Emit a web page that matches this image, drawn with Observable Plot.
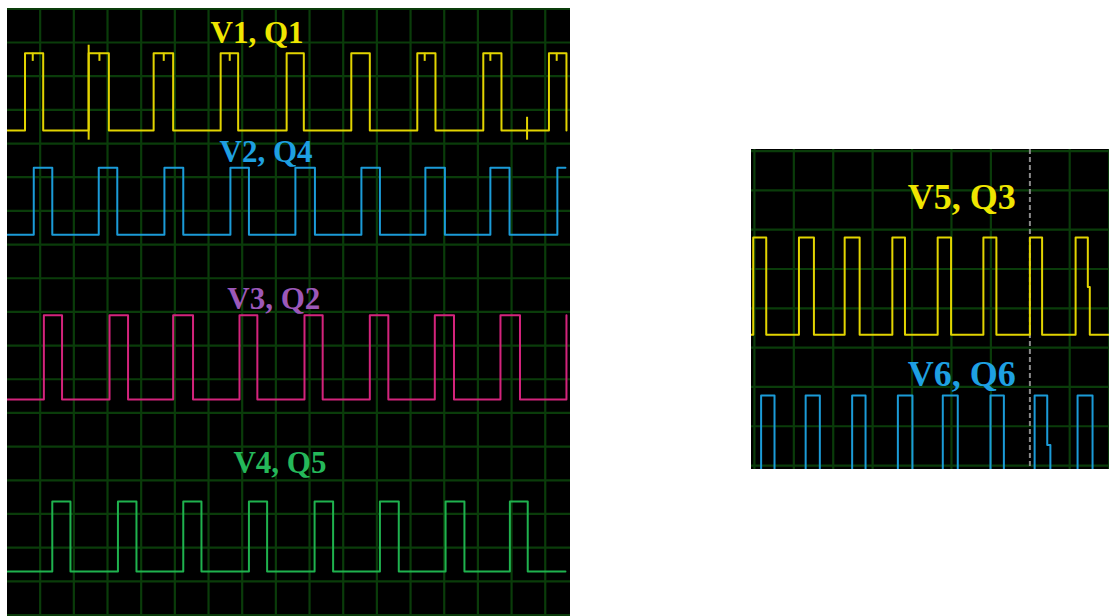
<!DOCTYPE html>
<html><head><meta charset="utf-8">
<script src="https://cdn.jsdelivr.net/npm/d3@7"></script>
<script src="https://cdn.jsdelivr.net/npm/@observablehq/plot@0.6"></script>
<style>
html,body{margin:0;padding:0;background:#fff}
body{width:1109px;height:616px;position:relative;overflow:hidden}
.panel{position:absolute;line-height:0}
#left{left:7px;top:8px}
#right{left:751px;top:149px}
</style></head><body>
<div id="left" class="panel"></div><div id="right" class="panel"></div>
<script>
// ---------- LEFT SCOPE (time and level in screen divisions) ----------
const leftNames = ["V1, Q1", "V2, Q4", "V3, Q2", "V4, Q5"];
const leftLow  = [14.39, 11.29, 6.40, 1.29];   // low level (div from bottom)
const leftHigh = [16.68, 13.28, 8.90, 3.37];   // high level
const leftStart = [0.03, 0.03, 0.03, 0.03];
const leftEnd   = [16.63, 16.60, 16.63, 16.60];
const v1Rises = [0.55, 2.44, 4.37, 6.36, 8.32, 10.24, 12.20, 14.16, 16.11];
const v1Falls = [1.09, 3.04, 4.95, 6.88, 8.83, 10.79, 12.74, 14.70, 16.63];
const v2Rises = [0.81, 2.74, 4.69, 6.65, 8.58, 10.54, 12.44, 14.37, 16.36];
const v2Falls = [1.36, 3.29, 5.25, 7.20, 9.16, 11.09, 13.02, 14.94];
const v3Rises = [1.11, 3.06, 4.95, 6.92, 8.85, 10.79, 12.72, 14.67, 16.63];
const v3Falls = [1.65, 3.61, 5.54, 7.45, 9.39, 11.34, 13.29, 15.25];
const v4Rises = [1.36, 3.31, 5.25, 7.20, 9.15, 11.09, 13.04, 14.95];
const v4Falls = [1.90, 3.86, 5.79, 7.74, 9.70, 11.65, 13.60, 15.48];
// V1 glitches: small notches on the high level and spikes
const v1NotchTimes = [0.78, 2.76, 4.67, 6.63, 12.42, 14.37, 16.34];
const v1NotchDepth = 0.24;
const v1SpikeTimes = [2.44, 15.46];
const v1SpikeLow   = [14.10, 14.10];
const v1SpikeHigh  = [16.92, 14.78];
const leftLabelX = [7.44, 7.71, 7.94, 8.12];
const leftLabelY = [17.27, 13.74, 9.38, 4.50];

// ---------- RIGHT SCOPE ----------
const rightNames = ["V5, Q3", "V6, Q6"];
const rightLow  = [3.33, -0.69];
const rightHigh = [5.80, 1.78];
const rightStart = [-0.08, -0.08];
const rightEnd   = [9.02, 9.02];
const v5Times  = [-0.03, 0.30, 1.13, 1.51, 2.29, 2.67, 3.50, 3.82, 4.65, 4.99, 5.81, 6.14, 6.99, 7.30, 8.15, 8.46, 8.51];
const v5States = [1, 0, 1, 0, 1, 0, 1, 0, 1, 0, 1, 0, 1, 0, 1, 0.49, 0];
const v6Times  = [0.17, 0.51, 1.30, 1.66, 2.48, 2.82, 3.64, 4.01, 4.78, 5.16, 5.99, 6.33, 7.11, 7.43, 7.51, 8.20, 8.58];
const v6States = [1, 0, 1, 0, 1, 0, 1, 0, 1, 0, 1, 0, 1, 0.49, 0, 1, 0];
const rightLabelX = [5.26, 5.26];
const rightLabelY = [6.83, 2.32];
const cursorTime = [6.99];

// ---------- styles ----------
const leftTraceColors = ["#e2d400", "#1b9bd8", "#d4247c", "#1fb24e"];
const leftLabelColors = ["#efe600", "#1ea0e2", "#9c58b8", "#25b85a"];
const rightTraceColors = ["#e2d400", "#1b9bd8"];
const rightLabelColors = ["#efe600", "#1ea0e2"];
const gridColor = "#0a3c0a";
const serif = "'Liberation Serif','Times New Roman',serif";

function mergeEdges(rises, falls) {
  const t = rises.map(d => [d, 1]).concat(falls.map(d => [d, 0]));
  t.sort((a, b) => a[0] - b[0]);
  return {times: t.map(d => d[0]), states: t.map(d => d[1])};
}
function buildTrace(id, start, end, times, states, low, high) {
  const lvl = s => low + s * (high - low);
  let s = 1 - states[0];
  const pts = [{id, t: start, v: lvl(s)}];
  times.forEach((t, i) => {
    pts.push({id, t, v: lvl(s)});
    s = states[i];
    pts.push({id, t, v: lvl(s)});
  });
  pts.push({id, t: end, v: lvl(s)});
  return pts;
}

const leftEdges = [mergeEdges(v1Rises, v1Falls), mergeEdges(v2Rises, v2Falls),
                   mergeEdges(v3Rises, v3Falls), mergeEdges(v4Rises, v4Falls)];
const leftTraces = leftEdges.flatMap((e, i) =>
  buildTrace(i, leftStart[i], leftEnd[i], e.times, e.states, leftLow[i], leftHigh[i]));
const notches = v1NotchTimes.map(t => ({t, y1: leftHigh[0] - v1NotchDepth, y2: leftHigh[0]}));
const spikes = v1SpikeTimes.map((t, i) => ({t, y1: v1SpikeLow[i], y2: v1SpikeHigh[i]}));
const leftLabels = leftNames.map((n, i) => ({n, x: leftLabelX[i], y: leftLabelY[i], c: leftLabelColors[i]}));

const leftPlot = Plot.plot({
  width: 563, height: 608,
  margin: 0,
  style: {background: "#000", overflow: "hidden"},
  x: {domain: [0.03, 16.75], axis: null},
  y: {domain: [-0.045, 18.01], axis: null},
  color: {type: "identity"},
  marks: [
    Plot.ruleX(d3.range(1, 17), {stroke: gridColor, strokeWidth: 2.2}),
    Plot.ruleY(d3.range(0, 19), {stroke: gridColor, strokeWidth: 2.2}),
    Plot.line(leftTraces, {x: "t", y: "v", z: "id", stroke: d => leftTraceColors[d.id], strokeWidth: 2, curve: "linear"}),
    Plot.ruleX(notches, {x: "t", y1: "y1", y2: "y2", stroke: leftTraceColors[0], strokeWidth: 2}),
    Plot.ruleX(spikes, {x: "t", y1: "y1", y2: "y2", stroke: leftTraceColors[0], strokeWidth: 2}),
    Plot.text(leftLabels, {x: "x", y: "y", text: "n", fill: "c", fontSize: 31, fontWeight: "bold",
      fontFamily: serif, textAnchor: "middle", lineAnchor: "middle"})
  ]
});
document.getElementById("left").appendChild(leftPlot);

const rightTraces = [
  ...buildTrace(0, rightStart[0], rightEnd[0], v5Times, v5States, rightLow[0], rightHigh[0]),
  ...buildTrace(1, rightStart[1], rightEnd[1], v6Times, v6States, rightLow[1], rightHigh[1])
];
const rightLabels = rightNames.map((n, i) => ({n, x: rightLabelX[i], y: rightLabelY[i], c: rightLabelColors[i]}));

const rightPlot = Plot.plot({
  width: 358, height: 320,
  margin: 0,
  style: {background: "#000", overflow: "hidden"},
  x: {domain: [-0.074, 9.01], axis: null},
  y: {domain: [-0.10, 8.04], axis: null},
  color: {type: "identity"},
  marks: [
    Plot.ruleX(d3.range(0, 10).filter(d => d !== cursorTime[0] && d !== 7), {stroke: gridColor, strokeWidth: 2.2}),
    Plot.ruleY(d3.range(0, 9), {stroke: gridColor, strokeWidth: 2.2}),
    Plot.ruleX(cursorTime, {stroke: "#8a8a8a", strokeWidth: 2, strokeDasharray: "5,3"}),
    Plot.line(rightTraces, {x: "t", y: "v", z: "id", stroke: d => rightTraceColors[d.id], strokeWidth: 2, clip: true}),
    Plot.text(rightLabels, {x: "x", y: "y", text: "n", fill: "c", fontSize: 36, fontWeight: "bold",
      fontFamily: serif, textAnchor: "middle", lineAnchor: "middle"})
  ]
});
document.getElementById("right").appendChild(rightPlot);
</script>
</body></html>
